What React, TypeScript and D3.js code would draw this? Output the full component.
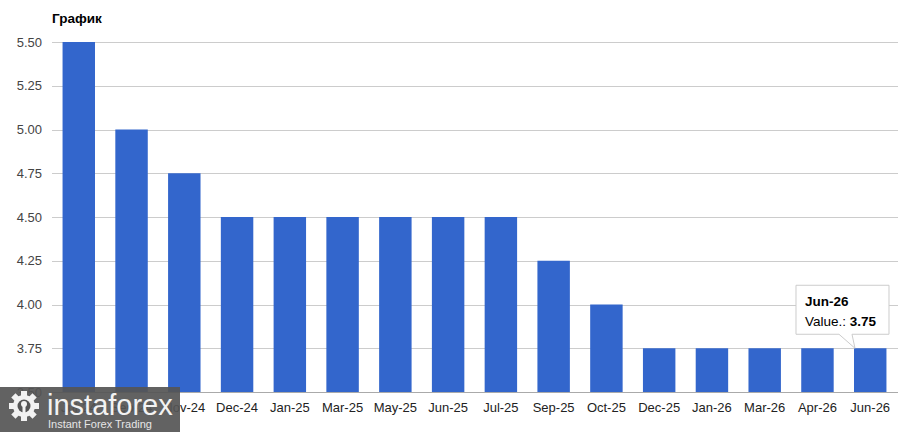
import React, { useEffect, useRef } from "react";
import * as d3 from "d3";

const categories = [
  "Jul-24", "Sep-24", "Nov-24", "Dec-24", "Jan-25", "Mar-25", "May-25", "Jun-25",
  "Jul-25", "Sep-25", "Oct-25", "Dec-25", "Jan-26", "Mar-26", "Apr-26", "Jun-26",
];
const values = [5.5, 5.0, 4.75, 4.5, 4.5, 4.5, 4.5, 4.5, 4.5, 4.25, 4.0, 3.75, 3.75, 3.75, 3.75, 3.75];
const yTicks = [3.5, 3.75, 4.0, 4.25, 4.5, 4.75, 5.0, 5.25, 5.5];
const title = "График";
const tooltipIndex = 15;

const width = 901;
const height = 432;
const font = "Arial, 'Liberation Sans', sans-serif";

const App = () => {
  const ref = useRef(null);

  useEffect(() => {
    document.body.style.margin = "0";
    const svg = d3.select(ref.current);
    svg.selectAll("*").remove();

    const x = d3.scaleBand<string>().domain(categories).range([52, 897]).paddingInner(0.385).paddingOuter(0.2);
    const y = d3.scaleLinear().domain([3.5, 5.5]).range([392, 42]);

    svg.append("rect").attr("width", width).attr("height", height).attr("fill", "white");

    // gridlines
    svg
      .append("g")
      .selectAll("line")
      .data(yTicks)
      .join("line")
      .attr("x1", 52)
      .attr("x2", 898)
      .attr("y1", (d) => Math.round(y(d)) + 0.5)
      .attr("y2", (d) => Math.round(y(d)) + 0.5)
      .attr("stroke", "#cccccc")
      .attr("stroke-width", 1);

    // y labels
    svg
      .append("g")
      .selectAll("text")
      .data(yTicks)
      .join("text")
      .attr("x", 42)
      .attr("y", (d) => y(d) + 4.5)
      .attr("text-anchor", "end")
      .attr("font-family", font)
      .attr("font-size", 13)
      .attr("fill", "#444444")
      .text((d) => d3.format(".2f")(d));

    // bars
    svg
      .append("g")
      .selectAll("rect")
      .data(values)
      .join("rect")
      .attr("x", (_, i) => x(categories[i])!)
      .attr("width", x.bandwidth())
      .attr("y", (d) => y(d))
      .attr("height", (d) => y(3.5) - y(d))
      .attr("fill", "#3366cc");

    // baseline
    svg
      .append("line")
      .attr("x1", 52)
      .attr("x2", 898)
      .attr("y1", 392.5)
      .attr("y2", 392.5)
      .attr("stroke", "#aaaaaa");

    // x labels
    svg
      .append("g")
      .selectAll("text")
      .data(categories)
      .join("text")
      .attr("x", (d) => x(d)! + x.bandwidth() / 2)
      .attr("y", 412)
      .attr("text-anchor", "middle")
      .attr("font-family", font)
      .attr("font-size", 13)
      .attr("fill", "#222222")
      .text((d) => d);

    // title
    svg
      .append("text")
      .attr("x", 52)
      .attr("y", 23)
      .attr("font-family", font)
      .attr("font-size", 13.5)
      .attr("font-weight", "bold")
      .attr("fill", "#000")
      .text(title);

    // tooltip
    const bx = x(categories[tooltipIndex])!;
    const by = y(values[tooltipIndex]);
    const left = bx - 58;
    const right = bx + 35;
    const top = by - 63;
    const bottom = by - 14;
    const tip = svg.append("g");
    tip
      .append("path")
      .attr(
        "d",
        `M${left},${top} L${right},${top} L${right},${bottom} L${bx - 2},${bottom} L${bx + 1},${by} L${bx - 15},${bottom} L${left},${bottom} Z`
      )
      .attr("fill", "white")
      .attr("stroke", "#cccccc")
      .attr("stroke-width", 1);
    tip
      .append("text")
      .attr("x", left + 9)
      .attr("y", top + 21)
      .attr("font-family", font)
      .attr("font-size", 13.5)
      .attr("font-weight", "bold")
      .attr("fill", "#000")
      .text(categories[tooltipIndex]);
    const t2 = tip
      .append("text")
      .attr("x", left + 9)
      .attr("y", top + 41)
      .attr("font-family", font)
      .attr("font-size", 13.5)
      .attr("fill", "#000");
    t2.append("tspan").text("Value.: ");
    t2.append("tspan").attr("font-weight", "bold").text(d3.format(".2f")(values[tooltipIndex]));

    // watermark
    const wm = svg.append("g");
    wm.append("rect")
      .attr("x", 0)
      .attr("y", 387)
      .attr("width", 180)
      .attr("height", 45)
      .attr("fill", "#555555")
      .attr("opacity", 0.92);
    const gear = wm.append("g").attr("transform", "translate(24,406)");
    d3.range(8).forEach((k) => {
      gear
        .append("rect")
        .attr("x", -3)
        .attr("y", -15)
        .attr("width", 6)
        .attr("height", 7)
        .attr("fill", "#f2f2f2")
        .attr("transform", `rotate(${k * 45})`);
    });
    gear.append("circle").attr("r", 11).attr("fill", "#f2f2f2");
    gear.append("circle").attr("r", 6.5).attr("fill", "#555555");
    gear.append("circle").attr("cy", -2).attr("r", 3).attr("fill", "#f2f2f2");
    gear.append("rect").attr("x", -1.5).attr("y", 0).attr("width", 3).attr("height", 12).attr("fill", "#f2f2f2");
    wm.append("text")
      .attr("x", 47)
      .attr("y", 415)
      .attr("font-family", font)
      .attr("font-size", 29)
      .attr("fill", "#f2f2f2")
      .text("instaforex");
    wm.append("text")
      .attr("x", 48)
      .attr("y", 428)
      .attr("font-family", font)
      .attr("font-size", 11)
      .attr("fill", "#e6e6e6")
      .text("Instant Forex Trading");
  }, []);

  return <svg ref={ref} width={width} height={height} style={{ display: "block" }} />;
};

export default App;
